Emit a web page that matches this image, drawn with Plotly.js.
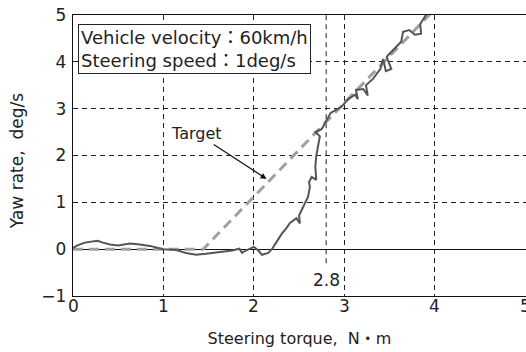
<!DOCTYPE html>
<html><head><meta charset="utf-8">
<script src="https://cdn.plot.ly/plotly-3.0.1.min.js"></script>
<style>html,body{margin:0;padding:0;background:#fff}#c{width:526px;height:352px}</style>
</head><body><div id="c"></div>
<script>
var measuredX = [0,0.05,0.13,0.22,0.27,0.33,0.41,0.5,0.63,0.74,0.85,1.0,1.14,1.25,1.36,1.47,1.62,1.76,1.84,1.87,1.9,1.95,2.0,2.05,2.09,2.16,2.2,2.25,2.31,2.36,2.4,2.47,2.51,2.5,2.53,2.57,2.6,2.62,2.61,2.64,2.69,2.68,2.69,2.71,2.73,2.68,2.75,2.79,2.85,2.97,3.04,3.12,3.15,3.13,3.21,3.26,3.24,3.32,3.4,3.43,3.46,3.52,3.47,3.48,3.56,3.63,3.65,3.72,3.78,3.85,3.84,3.89,3.92];
var measuredY = [0.03,0.08,0.14,0.16,0.18,0.14,0.1,0.08,0.12,0.1,0.07,0.0,-0.02,-0.08,-0.12,-0.1,-0.06,-0.03,0.01,-0.08,-0.04,0.0,0.05,-0.03,-0.12,-0.08,0.0,0.15,0.33,0.45,0.56,0.66,0.55,0.72,0.84,0.99,1.12,1.33,1.43,1.54,1.48,1.76,1.98,2.2,2.41,2.5,2.56,2.7,2.91,3.04,3.2,3.3,3.2,3.4,3.42,3.28,3.5,3.64,3.85,4.06,3.8,3.85,4.1,4.13,4.28,4.43,4.64,4.68,4.58,4.6,4.81,4.98,5.05];
var targetX = [0,1.44,3.95];
var targetY = [0,0,5.02];
var xTicks = [0,1,2,3,4,5];
var yTicks = [-1,0,1,2,3,4,5];
var markX = 2.8;

var font = "DejaVu Sans, Noto Sans CJK JP, sans-serif";
var traces = [
 {x: targetX, y: targetY, mode:'lines', line:{color:'#a0a0a0', width:3, dash:'10px,6px'}, hoverinfo:'skip'},
 {x: measuredX, y: measuredY, mode:'lines', line:{color:'#555', width:2}, hoverinfo:'skip'}
];
var ann = [
  {xref:'paper', yref:'paper', x:0.011, y:0.968, xanchor:'left', yanchor:'top', align:'left', showarrow:false,
   text:'Vehicle velocity：60km/h<br>Steering speed：1deg/s', font:{size:18, color:'#222'},
   bgcolor:'#fff', bordercolor:'#222', borderwidth:1, borderpad:2},
  {xref:'x', yref:'y', x:2.14, y:1.5, axref:'x', ayref:'y', ax:1.37, ay:2.47, text:'Target', font:{size:16, color:'#222'},
   showarrow:true, arrowhead:2, arrowsize:1, arrowwidth:1.2, arrowcolor:'#111'},
  {xref:'x', yref:'y', x:markX, y:-0.65, text:'2.8', showarrow:false, font:{size:17, color:'#222'}},
  {xref:'paper', yref:'paper', x:-0.1236, y:0.48, xanchor:'center', yanchor:'middle', textangle:-90, showarrow:false,
   text:'Yaw rate,  deg/s', font:{size:17, color:'#222'}}
];
xTicks.forEach(function(v){
  ann.push({xref:'x', yref:'paper', x:v, y:0, yanchor:'top', xanchor:'center', yshift:2, showarrow:false,
    text:String(v), font:{size:17, color:'#222'}});
});
var layout = {
 width:526, height:352, showlegend:false,
 paper_bgcolor:'#fff', plot_bgcolor:'#fff',
 margin:{l:73, r:0, t:15, b:56},
 font:{family:font, color:'#222', size:17},
 xaxis:{range:[0,5.01], tickvals:xTicks, showticklabels:false, showline:true, mirror:true, linecolor:'#111', linewidth:1.2,
   showgrid:true, gridcolor:'#222', griddash:'5px,4px', gridwidth:1, zeroline:false, ticks:'',
   title:{text:'Steering torque,  N・m', font:{size:16}, standoff:36}},
 yaxis:{range:[-1,5], tickvals:yTicks, ticktext:yTicks.map(function(v){return v<0?'\u2212'+(-v):String(v);}), showline:true, mirror:true, linecolor:'#111', linewidth:1.2,
   showgrid:true, gridcolor:'#222', griddash:'5px,4px', gridwidth:1, zeroline:true, zerolinecolor:'#111', zerolinewidth:1, ticks:'',
   ticklabelstandoff:2},
 shapes:[{type:'line', xref:'x', yref:'y', x0:markX, x1:markX, y0:-0.3, y1:5, line:{color:'#222', width:1, dash:'5px,4px'}, layer:'below'}],
 annotations: ann
};
Plotly.newPlot('c', traces, layout, {staticPlot:true});
</script></body></html>
